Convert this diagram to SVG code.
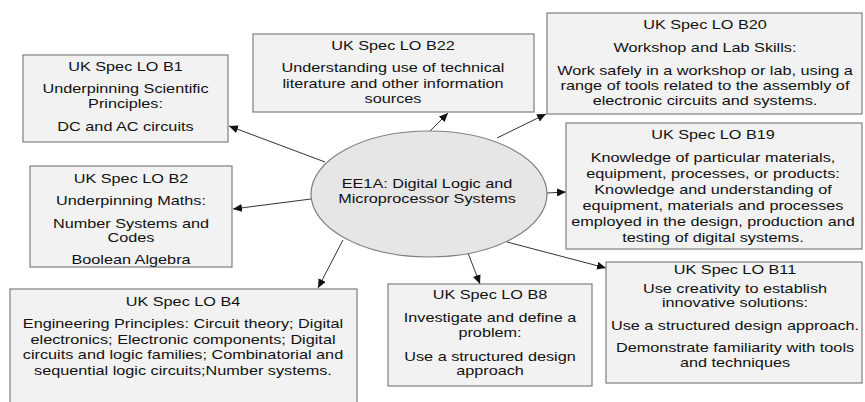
<svg xmlns="http://www.w3.org/2000/svg" width="865" height="402" viewBox="0 0 865 402">
  <style>
    .box { fill: #f2f2f2; stroke: #7f7f7f; stroke-width: 1.2; }
    .hub { fill: #e6e6e6; stroke: #7f7f7f; stroke-width: 1.2; }
    text { font-family: "Liberation Sans", Arial, sans-serif; font-size: 12.5px; fill: #111; text-anchor: middle; }
    .link { stroke: #333; stroke-width: 1; fill: none; marker-end: url(#head); }
  </style>
  <defs>
    <marker id="head" markerUnits="userSpaceOnUse" markerWidth="10" markerHeight="8" refX="9" refY="4" orient="auto">
      <path d="M0,0 L9,4 L0,8 Z" fill="#111"/>
    </marker>
  </defs>
  <rect width="865" height="402" fill="#ffffff"/>

  <!-- connectors from the module hub to each learning outcome -->
  <g id="connectors">
    <line class="link" x1="325" y1="162" x2="229" y2="126"/>
    <line class="link" x1="430" y1="131" x2="448" y2="113"/>
    <line class="link" x1="497" y1="138" x2="546" y2="114"/>
    <line class="link" x1="547" y1="193" x2="566" y2="192"/>
    <line class="link" x1="311" y1="199" x2="233" y2="209"/>
    <line class="link" x1="343" y1="240" x2="318" y2="288"/>
    <line class="link" x1="468" y1="253" x2="480" y2="284"/>
    <line class="link" x1="507" y1="242" x2="606" y2="268"/>
  </g>

  <g id="hub">
    <ellipse class="hub" cx="429" cy="194" rx="118" ry="63"/>
    <g transform="translate(427 0) scale(1.3 1)">
      <text x="0" y="188">EE1A: Digital Logic and</text>
      <text x="0" y="203">Microprocessor Systems</text>
    </g>
  </g>

  <g id="lo-b1">
    <rect class="box" x="23" y="55" width="205" height="87"/>
    <g transform="translate(125.5 0) scale(1.3 1)">
      <text x="0" y="71">UK Spec LO B1</text>
      <text x="0" y="93">Underpinning Scientific</text>
      <text x="0" y="108">Principles:</text>
      <text x="0" y="131">DC and AC circuits</text>
    </g>
  </g>

  <g id="lo-b22">
    <rect class="box" x="253" y="34" width="281" height="78"/>
    <g transform="translate(393 0) scale(1.3 1)">
      <text x="0" y="50.5">UK Spec LO B22</text>
      <text x="0" y="72.5">Understanding use of technical</text>
      <text x="0" y="88">literature and other information</text>
      <text x="0" y="103">sources</text>
    </g>
  </g>

  <g id="lo-b20">
    <rect class="box" x="547" y="13" width="315" height="101"/>
    <g transform="translate(705 0) scale(1.3 1)">
      <text x="0" y="29">UK Spec LO B20</text>
      <text x="0" y="52">Workshop and Lab Skills:</text>
      <text x="0" y="75">Work safely in a workshop or lab, using a</text>
      <text x="0" y="90">range of tools related to the assembly of</text>
      <text x="0" y="105">electronic circuits and systems.</text>
    </g>
  </g>

  <g id="lo-b19">
    <rect class="box" x="566" y="123" width="296" height="126"/>
    <g transform="translate(713 0) scale(1.3 1)">
      <text x="0" y="139">UK Spec LO B19</text>
      <text x="0" y="162">Knowledge of particular materials,</text>
      <text x="0" y="178">equipment, processes, or products:</text>
      <text x="0" y="194">Knowledge and understanding of</text>
      <text x="0" y="210">equipment, materials and processes</text>
      <text x="0" y="226">employed in the design, production and</text>
      <text x="0" y="242">testing of digital systems.</text>
    </g>
  </g>

  <g id="lo-b2">
    <rect class="box" x="30" y="166" width="202" height="101"/>
    <g transform="translate(131 0) scale(1.3 1)">
      <text x="0" y="183">UK Spec LO B2</text>
      <text x="0" y="205">Underpinning Maths:</text>
      <text x="0" y="228">Number Systems and</text>
      <text x="0" y="242">Codes</text>
      <text x="0" y="264">Boolean Algebra</text>
    </g>
  </g>

  <g id="lo-b4">
    <rect class="box" x="10" y="289" width="347" height="125"/>
    <g transform="translate(183 0) scale(1.3 1)">
      <text x="0" y="306.5">UK Spec LO B4</text>
      <text x="0" y="328">Engineering Principles: Circuit theory; Digital</text>
      <text x="0" y="344">electronics; Electronic components; Digital</text>
      <text x="0" y="359">circuits and logic families; Combinatorial and</text>
      <text x="0" y="375">sequential logic circuits;Number systems.</text>
    </g>
  </g>

  <g id="lo-b8">
    <rect class="box" x="388" y="284" width="204" height="102"/>
    <g transform="translate(490 0) scale(1.3 1)">
      <text x="0" y="299">UK Spec LO B8</text>
      <text x="0" y="322">Investigate and define a</text>
      <text x="0" y="337">problem:</text>
      <text x="0" y="361">Use a structured design</text>
      <text x="0" y="375">approach</text>
    </g>
  </g>

  <g id="lo-b11">
    <rect class="box" x="606" y="262" width="256" height="121"/>
    <g transform="translate(735 0) scale(1.3 1)">
      <text x="0" y="274">UK Spec LO B11</text>
      <text x="0" y="293">Use creativity to establish</text>
      <text x="0" y="307">innovative solutions:</text>
      <text x="0" y="330">Use a structured design approach.</text>
      <text x="0" y="352">Demonstrate familiarity with tools</text>
      <text x="0" y="367">and techniques</text>
    </g>
  </g>
</svg>
